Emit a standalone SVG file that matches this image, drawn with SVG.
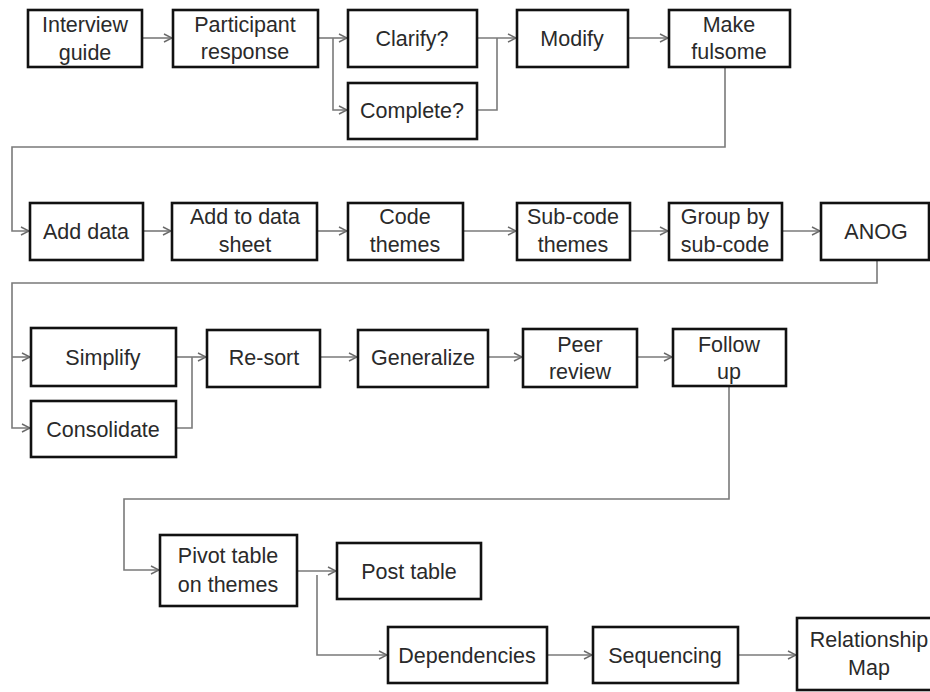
<svg xmlns="http://www.w3.org/2000/svg" width="930" height="692" viewBox="0 0 930 692">
  <style>
    .box rect { fill: #ffffff; stroke: #111111; stroke-width: 2.6; }
    .box text { font-family: "Liberation Sans", Arial, sans-serif; font-size: 21.5px; fill: #2a2a2a; text-anchor: middle; }
    .wire { fill: none; stroke: #7a7a7a; stroke-width: 1.6; }
    .arrow { marker-end: url(#chev); }
  </style>
  <defs>
    <marker id="chev" markerUnits="userSpaceOnUse" markerWidth="10" markerHeight="10" refX="9" refY="5" orient="auto">
      <path d="M1,1 L9,5 L1,9" fill="none" stroke="#6a6a6a" stroke-width="1.4"/>
    </marker>
  </defs>
  <rect width="930" height="692" fill="#ffffff"/>

  <!-- connectors -->
  <g id="connectors">
    <!-- row 1 -->
    <path class="wire arrow" d="M142,38 H172"/>
    <path class="wire arrow" d="M318,38 H347"/>
    <path class="wire arrow" d="M333,38 V110 H347"/>
    <path class="wire arrow" d="M477,38 H516"/>
    <path class="wire" d="M477,110 H497 V38"/>
    <path class="wire arrow" d="M628,38 H668"/>
    <path class="wire arrow" d="M725,67 V147 H12 V231 H29"/>
    <!-- row 2 -->
    <path class="wire arrow" d="M143,231 H171"/>
    <path class="wire arrow" d="M317,231 H347"/>
    <path class="wire arrow" d="M463,231 H516"/>
    <path class="wire arrow" d="M630,231 H668"/>
    <path class="wire arrow" d="M782,231 H820"/>
    <path class="wire arrow" d="M877,260 V283 H12 V428 H30"/>
    <path class="wire arrow" d="M12,357 H30"/>
    <!-- row 3 -->
    <path class="wire arrow" d="M176,357 H206"/>
    <path class="wire" d="M176,428 H192 V357"/>
    <path class="wire arrow" d="M320,357 H357"/>
    <path class="wire arrow" d="M488,357 H522"/>
    <path class="wire arrow" d="M637,357 H672"/>
    <path class="wire arrow" d="M729,386 V499 H124 V570 H159"/>
    <!-- row 4 -->
    <path class="wire arrow" d="M297,571 H336"/>
    <path class="wire arrow" d="M317,575 V655 H387"/>
    <path class="wire arrow" d="M547,655 H592"/>
    <path class="wire arrow" d="M738,655 H796"/>
  </g>

  <!-- row 1 -->
  <g id="interview-guide" class="box">
    <rect x="28" y="10" width="114" height="57"/>
    <text x="85" y="32">Interview</text>
    <text x="85" y="60">guide</text>
  </g>
  <g id="participant-response" class="box">
    <rect x="173" y="10" width="145" height="57"/>
    <text x="245" y="32">Participant</text>
    <text x="245" y="59">response</text>
  </g>
  <g id="clarify" class="box">
    <rect x="348" y="10" width="129" height="57"/>
    <text x="412" y="46">Clarify?</text>
  </g>
  <g id="complete" class="box">
    <rect x="348" y="83" width="129" height="56"/>
    <text x="412" y="118">Complete?</text>
  </g>
  <g id="modify" class="box">
    <rect x="517" y="10" width="111" height="57"/>
    <text x="572" y="46">Modify</text>
  </g>
  <g id="make-fulsome" class="box">
    <rect x="669" y="10" width="121" height="57"/>
    <text x="729" y="32">Make</text>
    <text x="729" y="59">fulsome</text>
  </g>

  <!-- row 2 -->
  <g id="add-data" class="box">
    <rect x="30" y="203" width="113" height="57"/>
    <text x="86" y="239">Add data</text>
  </g>
  <g id="add-to-data-sheet" class="box">
    <rect x="172" y="203" width="145" height="57"/>
    <text x="245" y="224">Add to data</text>
    <text x="245" y="252">sheet</text>
  </g>
  <g id="code-themes" class="box">
    <rect x="348" y="203" width="115" height="57"/>
    <text x="405" y="224">Code</text>
    <text x="405" y="252">themes</text>
  </g>
  <g id="sub-code-themes" class="box">
    <rect x="517" y="203" width="113" height="57"/>
    <text x="573" y="224">Sub-code</text>
    <text x="573" y="252">themes</text>
  </g>
  <g id="group-by-sub-code" class="box">
    <rect x="669" y="203" width="113" height="57"/>
    <text x="725" y="224">Group by</text>
    <text x="725" y="252">sub-code</text>
  </g>
  <g id="anog" class="box">
    <rect x="821" y="203" width="108" height="57"/>
    <text x="876" y="239">ANOG</text>
  </g>

  <!-- row 3 -->
  <g id="simplify" class="box">
    <rect x="31" y="328" width="145" height="58"/>
    <text x="103" y="365">Simplify</text>
  </g>
  <g id="consolidate" class="box">
    <rect x="31" y="401" width="145" height="56"/>
    <text x="103" y="437">Consolidate</text>
  </g>
  <g id="re-sort" class="box">
    <rect x="207" y="330" width="113" height="57"/>
    <text x="264" y="365">Re-sort</text>
  </g>
  <g id="generalize" class="box">
    <rect x="358" y="330" width="130" height="57"/>
    <text x="423" y="365">Generalize</text>
  </g>
  <g id="peer-review" class="box">
    <rect x="523" y="329" width="114" height="58"/>
    <text x="580" y="352">Peer</text>
    <text x="580" y="379">review</text>
  </g>
  <g id="follow-up" class="box">
    <rect x="673" y="329" width="113" height="57"/>
    <text x="729" y="352">Follow</text>
    <text x="729" y="379">up</text>
  </g>

  <!-- row 4 -->
  <g id="pivot-table" class="box">
    <rect x="160" y="535" width="137" height="71"/>
    <text x="228" y="563">Pivot table</text>
    <text x="228" y="592">on themes</text>
  </g>
  <g id="post-table" class="box">
    <rect x="337" y="543" width="144" height="56"/>
    <text x="409" y="579">Post table</text>
  </g>
  <g id="dependencies" class="box">
    <rect x="388" y="627" width="159" height="56"/>
    <text x="467" y="663">Dependencies</text>
  </g>
  <g id="sequencing" class="box">
    <rect x="593" y="627" width="145" height="56"/>
    <text x="665" y="663">Sequencing</text>
  </g>
  <g id="relationship-map" class="box">
    <rect x="797" y="618" width="146" height="72"/>
    <text x="869" y="647">Relationship</text>
    <text x="869" y="675">Map</text>
  </g>
</svg>
